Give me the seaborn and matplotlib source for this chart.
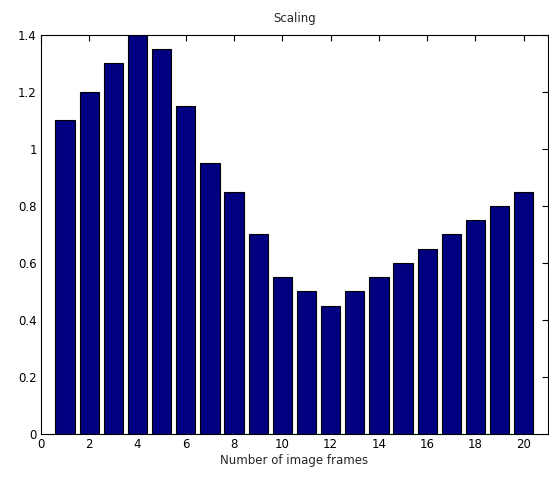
import matplotlib
matplotlib.use("Agg")
import matplotlib.pyplot as plt
import seaborn as sns
import pandas as pd

frames = list(range(1, 21))
scaling = [1.1, 1.2, 1.3, 1.4, 1.35, 1.15, 0.95, 0.85, 0.7, 0.55,
           0.5, 0.45, 0.5, 0.55, 0.6, 0.65, 0.7, 0.75, 0.8, 0.85]
xticks = [0, 2, 4, 6, 8, 10, 12, 14, 16, 18, 20]
yticks = [0, 0.2, 0.4, 0.6, 0.8, 1.0, 1.2, 1.4]
yticklabels = ["0", "0.2", "0.4", "0.6", "0.8", "1", "1.2", "1.4"]

sns.set_theme(style="white")
plt.rcParams['font.family'] = ['DejaVu Sans']

df = pd.DataFrame({"frame": frames, "scaling": scaling})

fig = plt.figure(figsize=(5.49, 4.78), dpi=100)
ax = fig.add_axes([0.0747, 0.092, 0.9233, 0.835])
sns.barplot(data=df, x="frame", y="scaling", native_scale=True, width=0.8,
            color="#000080", saturation=1, edgecolor="black", linewidth=0.8, ax=ax)
ax.set_xlim(0, 21)
ax.set_ylim(0, 1.4)
ax.set_xticks(xticks)
ax.set_xticklabels([str(t) for t in xticks])
ax.set_yticks(yticks)
ax.set_yticklabels(yticklabels)
ax.tick_params(direction="in", length=4, width=0.8, top=True, right=True,
               labelsize=8.5, colors="black", pad=3)
for s in ax.spines.values():
    s.set_visible(True)
    s.set_color("black")
    s.set_linewidth(0.8)
ax.set_xlabel("Number of image frames", fontsize=8.5, labelpad=2)
ax.set_ylabel("")
ax.set_title("Scaling", fontsize=8.5, pad=9)
fig.savefig("out.png", dpi=100)
